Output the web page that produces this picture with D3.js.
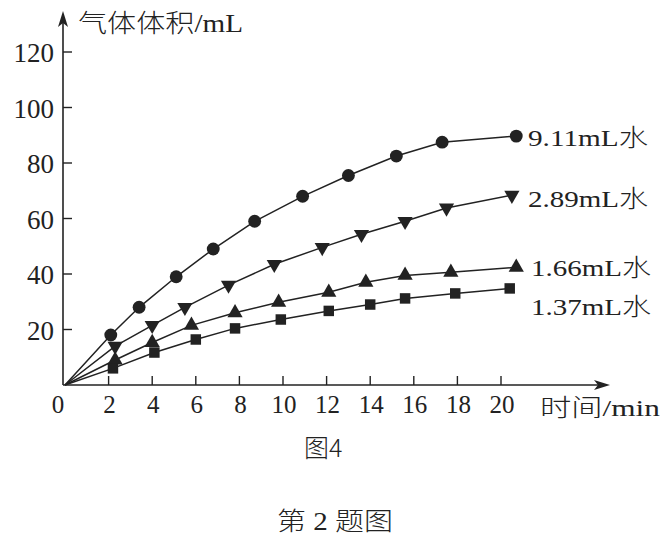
<!DOCTYPE html>
<html>
<head>
<meta charset="utf-8">
<script src="https://cdn.jsdelivr.net/npm/d3@7"></script>
<style>
  body { margin: 0; background: #fff; }
  text { fill: #222; font-family: "Liberation Serif", "Noto Sans CJK SC", serif; font-weight: 300; }
  .cjk { font-family: "Noto Sans CJK SC", sans-serif; }
</style>
</head>
<body>
<div id="chart"></div>
<script>
// series: [time (min), volume (mL)]
const s911 = [[0,0],[2.1,18],[3.4,28],[5.1,39],[6.8,49],[8.7,59],[10.9,68],[13.0,75.5],[15.2,82.5],[17.3,87.5],[20.7,89.7]];
const s289 = [[0,0],[2.3,14],[4.0,21.5],[5.5,28],[7.5,36],[9.6,43.5],[11.8,49.6],[13.6,54.3],[15.6,59],[17.5,63.8],[20.5,68.4]];
const s166 = [[0,0],[2.3,9],[4.0,15.3],[5.8,21.5],[7.8,26],[9.8,29.8],[12.1,33.4],[13.8,37],[15.6,39.5],[17.7,40.6],[20.7,42.4]];
const s137 = [[0,0],[2.2,6],[4.1,11.7],[6.0,16.4],[7.8,20.4],[9.9,23.6],[12.1,26.7],[14.0,29],[15.6,31.2],[17.9,33],[20.4,34.8]];

const seriesNames = ["9.11mL水", "2.89mL水", "1.66mL水", "1.37mL水"];
const xTicks = [0, 2, 4, 6, 8, 10, 12, 14, 16, 18, 20];
const yTicks = [20, 40, 60, 80, 100, 120];

const W = 670, H = 538;

const svg = d3.select("#chart")
    .append("svg")
    .attr("width", W)
    .attr("height", H);

const x = d3.scaleLinear().domain([0, 20]).range([65, 501]);
const y = d3.scaleLinear().domain([0, 120]).range([385, 52]);

const ink = "#222";

// the source face is wider than Liberation Serif: scale text to a target width
function wideText(tx, ty, str, size, width) {
    const t = svg.append("text")
        .style("font-size", size + "px")
        .text(str);
    const w = t.node().getComputedTextLength();
    t.attr("transform", `translate(${tx},${ty}) scale(${width / w},1)`);
    return t;
}

// axes lines with arrows
svg.append("line")
    .attr("x1", x(0) - 2).attr("y1", y(0))
    .attr("x2", 604).attr("y2", y(0))
    .attr("stroke", ink).attr("stroke-width", 1.6);
svg.append("path")
    .attr("d", `M610,${y(0)} L594,${y(0) - 5} L598,${y(0)} L594,${y(0) + 5} Z`)
    .attr("fill", ink);

svg.append("line")
    .attr("x1", x(0) - 2).attr("y1", y(0))
    .attr("x2", x(0) - 2).attr("y2", 18)
    .attr("stroke", ink).attr("stroke-width", 1.6);
svg.append("path")
    .attr("d", `M${x(0) - 2},11 L${x(0) - 7},27 L${x(0) - 2},23 L${x(0) + 3},27 Z`)
    .attr("fill", ink);

// x ticks
const xg = svg.append("g");
xg.selectAll("line")
    .data(xTicks.filter(d => d > 0))
    .enter().append("line")
    .attr("x1", d => x(d)).attr("x2", d => x(d))
    .attr("y1", y(0)).attr("y2", y(0) - 9)
    .attr("stroke", ink).attr("stroke-width", 1.4);
xg.selectAll("text")
    .data(xTicks)
    .enter().append("text")
    .attr("x", d => d === 0 ? x(0) - 7 : x(d) + 1)
    .attr("y", 413)
    .attr("text-anchor", "middle")
    .style("font-size", "25px")
    .text(d => d);

// y ticks
const yg = svg.append("g");
yg.selectAll("line")
    .data(yTicks)
    .enter().append("line")
    .attr("x1", x(0) - 2).attr("x2", x(0) + 7)
    .attr("y1", d => y(d)).attr("y2", d => y(d))
    .attr("stroke", ink).attr("stroke-width", 1.4);
yg.selectAll("text")
    .data(yTicks)
    .enter().append("text")
    .attr("x", 54)
    .attr("y", d => y(d) + 10)
    .attr("text-anchor", "end")
    .style("font-size", "27px")
    .text(d => d);

// axis titles and captions
wideText(78, 32, "气体体积/mL", 25, 165);
wideText(540, 416, "时间/min", 24, 120);
svg.append("text")
    .attr("class", "cjk")
    .attr("x", 304).attr("y", 457)
    .style("font-size", "25px")
    .text("图4");
wideText(277, 530, "第 2 题图", 25, 116);

const line = d3.line()
    .x(d => x(d[0]))
    .y(d => y(d[1]));

const data = [s911, s289, s166, s137];
const symbols = [
    d3.symbol().type(d3.symbolCircle).size(130),
    d3.symbol().type(d3.symbolTriangle).size(100),
    d3.symbol().type(d3.symbolTriangle).size(100),
    d3.symbol().type(d3.symbolSquare).size(110)
];
const rotate = [0, 180, 0, 0];
const labelDy = [10, 12, 9, 27];

data.forEach((s, i) => {
    svg.append("path")
        .attr("d", line(s))
        .attr("fill", "none")
        .attr("stroke", ink)
        .attr("stroke-width", 1.5);

    svg.append("g").selectAll("path")
        .data(s.slice(1))
        .enter().append("path")
        .attr("d", symbols[i])
        .attr("transform", d => `translate(${x(d[0])},${y(d[1])}) rotate(${rotate[i]})`)
        .attr("fill", ink);

    const last = s[s.length - 1];
    wideText(528 + (i >= 2 ? 3 : 0), y(last[1]) + labelDy[i], seriesNames[i], 24, 120);
});
</script>
</body>
</html>
